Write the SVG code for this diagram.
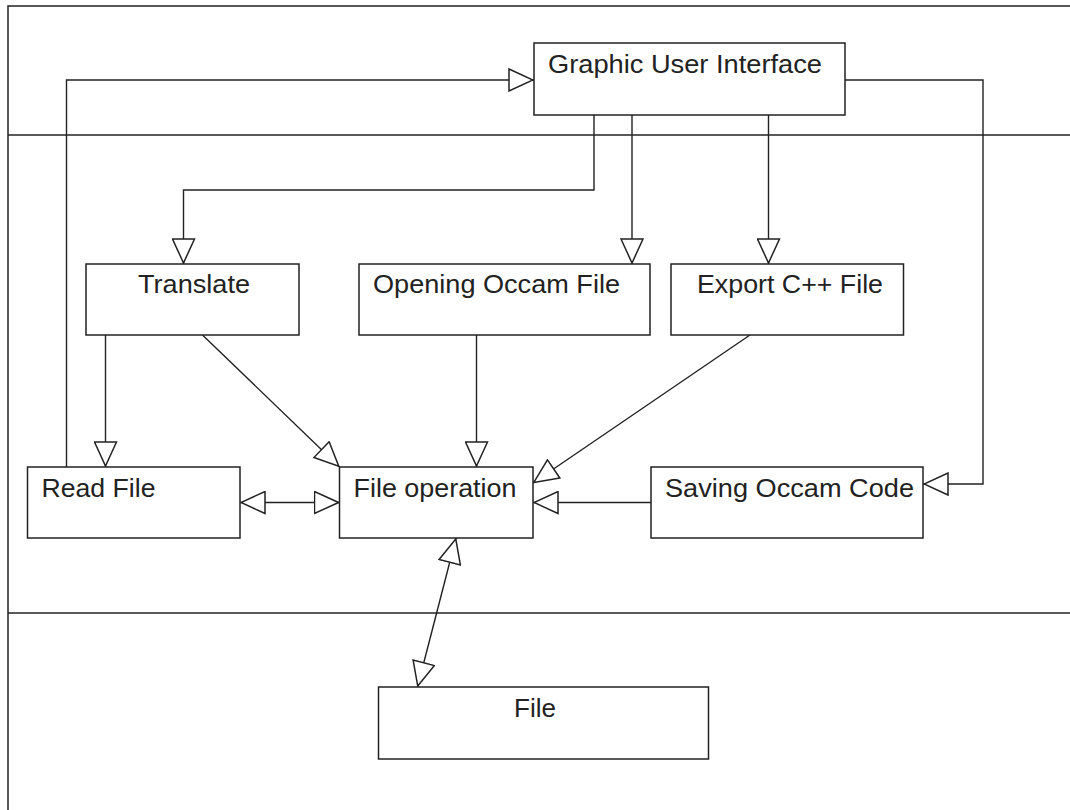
<svg xmlns="http://www.w3.org/2000/svg" width="1070" height="810" viewBox="0 0 1070 810">
<style>
.frame{fill:none;stroke:#222;stroke-width:1.5}
.box{fill:#fff;stroke:#222;stroke-width:1.5}
.lbl{font-family:"Liberation Sans",Arial,sans-serif;font-size:25px;fill:#222}
.con{fill:none;stroke:#222;stroke-width:1.4}
</style>
<defs>
<marker id="tri" viewBox="0 0 26 24" refX="26" refY="12" markerWidth="26" markerHeight="24" markerUnits="userSpaceOnUse" orient="auto-start-reverse">
<path d="M1,1 L25,12 L1,23 Z" fill="#fff" stroke="#222" stroke-width="1.5"/>
</marker>
</defs>
<rect width="1070" height="810" fill="#fff"/>
<g id="frame">
<path class="frame" d="M1070,6 H8 V810"/>
<line class="frame" x1="8" y1="135" x2="1070" y2="135"/>
<line class="frame" x1="8" y1="613" x2="1070" y2="613"/>
</g>
<g id="connectors">
<path class="con" d="M66.5,467 V80 H534" marker-end="url(#tri)"/>
<path class="con" d="M845,80 H983 V484 H923" marker-end="url(#tri)"/>
<path class="con" d="M594,115 V190 H183.5 V264" marker-end="url(#tri)"/>
<path class="con" d="M632,115 V264" marker-end="url(#tri)"/>
<path class="con" d="M768.5,115 V264" marker-end="url(#tri)"/>
<path class="con" d="M105.5,335 V467" marker-end="url(#tri)"/>
<path class="con" d="M202.5,335 L339.5,467" marker-end="url(#tri)"/>
<path class="con" d="M476.5,335 V467" marker-end="url(#tri)"/>
<path class="con" d="M750,335 L533,483" marker-end="url(#tri)"/>
<path class="con" d="M651,502.5 H533" marker-end="url(#tri)"/>
<path class="con" d="M240,502.5 H339.5" marker-start="url(#tri)" marker-end="url(#tri)"/>
<path class="con" d="M456,538 L417.5,687" marker-start="url(#tri)" marker-end="url(#tri)"/>
</g>
<g id="gui">
<rect class="box" x="534" y="43" width="311" height="72"/>
<text class="lbl" x="548" y="73" textLength="274" lengthAdjust="spacingAndGlyphs">Graphic User Interface</text>
</g>
<g id="translate">
<rect class="box" x="86" y="264" width="213" height="71"/>
<text class="lbl" x="138" y="293" textLength="112" lengthAdjust="spacingAndGlyphs">Translate</text>
</g>
<g id="opening">
<rect class="box" x="359" y="264" width="291" height="71"/>
<text class="lbl" x="373" y="293" textLength="247" lengthAdjust="spacingAndGlyphs">Opening Occam File</text>
</g>
<g id="export">
<rect class="box" x="671" y="264" width="232.5" height="71"/>
<text class="lbl" x="697" y="293" textLength="186" lengthAdjust="spacingAndGlyphs">Export C++ File</text>
</g>
<g id="readfile">
<rect class="box" x="27.5" y="467" width="212.5" height="71"/>
<text class="lbl" x="41.5" y="497" textLength="114" lengthAdjust="spacingAndGlyphs">Read File</text>
</g>
<g id="fileop">
<rect class="box" x="339.5" y="467" width="193.5" height="71"/>
<text class="lbl" x="353.5" y="497" textLength="163" lengthAdjust="spacingAndGlyphs">File operation</text>
</g>
<g id="saving">
<rect class="box" x="651" y="467" width="272" height="71"/>
<text class="lbl" x="665" y="497" textLength="249" lengthAdjust="spacingAndGlyphs">Saving Occam Code</text>
</g>
<g id="file">
<rect class="box" x="378.5" y="687" width="330" height="72"/>
<text class="lbl" x="514" y="717" textLength="42" lengthAdjust="spacingAndGlyphs">File</text>
</g>
</svg>
